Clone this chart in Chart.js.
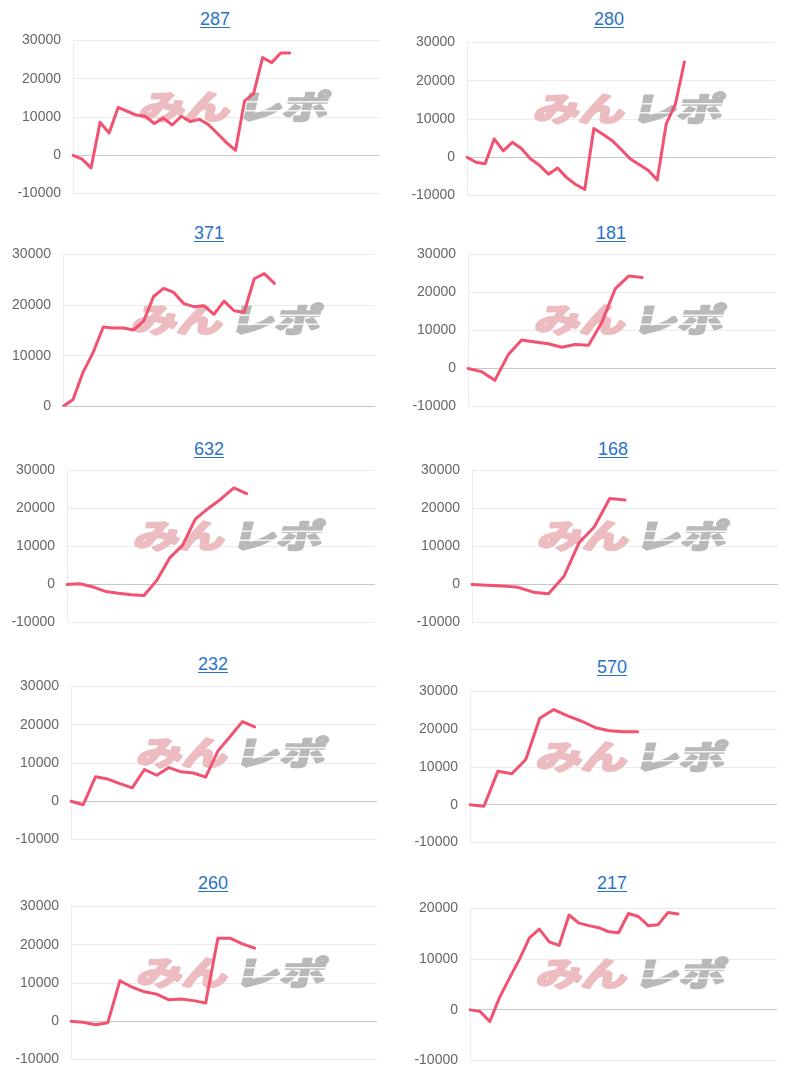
<!DOCTYPE html>
<html><head><meta charset="utf-8">
<script src="https://cdn.jsdelivr.net/npm/chart.js@4.4.0/dist/chart.umd.min.js"></script>
<style>
html,body{margin:0;padding:0;background:#fff;width:800px;height:1080px;overflow:hidden;position:relative;font-family:"Liberation Sans",Arial,sans-serif;}
.t{position:absolute;transform:translate(-50%,-50%);font-size:18px;color:#2a72c8;text-decoration:underline;text-underline-offset:2px;white-space:nowrap;line-height:1;}
canvas{position:absolute;}
</style></head><body>
<script>
// ---- data ----
const titles = ['287','280','371','181','632','168','232','570','260','217'];
const xLabelCounts = [35,35,32,24,25,21,26,23,26,32];
const yTicksFull = [-10000,0,10000,20000,30000];
const yTicksPos = [0,10000,20000,30000];
const yTicksLow = [-10000,0,10000,20000];

const s287 = [0,-1000,-3300,8600,5800,12500,11500,10500,10200,8300,9700,7900,10200,8800,9400,8000,5700,3300,1300,14200,16100,25500,24200,26700,26700];
const s280 = [0,-1300,-1700,4800,1700,3900,2300,-400,-2100,-4400,-2800,-5300,-7100,-8400,7500,6000,4400,2100,-400,-1900,-3400,-5900,8800,13800,24900];
const s371 = [0,1400,6800,10700,15700,15500,15500,15100,16800,21700,23300,22500,20300,19700,19900,18200,20800,18900,18600,25200,26200,24300];
const s181 = [0,-800,-3100,3600,7500,7000,6500,5600,6300,6100,12200,21000,24300,23900];
const s632 = [0,200,-600,-1800,-2300,-2700,-2900,1100,7000,10300,17200,20000,22500,25400,23900];
const s168 = [0,-200,-400,-700,-2000,-2400,2100,11000,15200,22600,22200];
const s232 = [0,-900,6400,5800,4600,3500,8300,6800,8800,7700,7400,6300,13100,16900,20800,19400];
const s570 = [0,-400,8900,8200,12000,22900,25200,23500,22100,20400,19600,19300,19300];
const s260 = [0,-250,-900,-400,10600,8900,7700,7100,5600,5800,5400,4800,21700,21700,20200,19100];
const s217 = [0,-300,-2300,2500,6300,10000,14200,15900,13400,12700,18700,17100,16600,16200,15400,15200,19000,18400,16600,16800,19200,18900];

const seriesList = [s287,s280,s371,s181,s632,s168,s232,s570,s260,s217];
const tickList = [yTicksFull,yTicksFull,yTicksPos,yTicksFull,yTicksFull,yTicksFull,yTicksFull,yTicksFull,yTicksFull,yTicksLow];

// ---- layout (positions only) ----
const panels = [
  {px:0,   l:73,  r:380, t:40,  b:200,  tx:215, ty:19},
  {px:400, l:467, r:775, t:42,  b:202,  tx:609, ty:19},
  {px:0,   l:63,  r:375, t:254, b:413,  tx:209, ty:233},
  {px:400, l:468, r:776, t:254, b:413,  tx:611, ty:233},
  {px:0,   l:67,  r:375, t:470, b:629,  tx:209, ty:449},
  {px:400, l:472, r:778, t:470, b:629,  tx:613, ty:449},
  {px:0,   l:71,  r:377, t:686, b:846,  tx:213, ty:664},
  {px:400, l:470, r:777, t:691, b:849,  tx:612, ty:667},
  {px:0,   l:71,  r:377, t:906, b:1066, tx:213, ty:883},
  {px:400, l:470, r:777, t:908, b:1067, tx:612, ty:883}
];

const watermark = {
  id:'watermark',
  beforeDatasetsDraw(chart){
    const a = chart.chartArea, ctx = chart.ctx;
    const cx = (a.left + a.right)/2 + 8, cy = (a.top + a.bottom)/2 - 11;
    ctx.save();
    ctx.translate(cx, cy);
    ctx.transform(1,0,-0.22,1,0,0);
    ctx.scale(1.38,1);
    ctx.font = 'bold 33px "Noto Sans CJK JP"';
    ctx.textBaseline = 'middle';
    ctx.lineJoin = 'round';
    ctx.lineWidth = 2.6;
    ctx.textAlign = 'right';
    ctx.fillStyle = ctx.strokeStyle = '#ecbcc1';
    ctx.strokeText('みん', -2, 0);
    ctx.fillText('みん', -2, 0);
    ctx.textAlign = 'left';
    ctx.fillStyle = ctx.strokeStyle = '#b9b9b9';
    ctx.strokeText('レポ', 3, 0);
    ctx.fillText('レポ', 3, 0);
    // speed-line cuts on the grey part
    ctx.fillStyle = 'rgba(255,255,255,0.85)';
    ctx.fillRect(0, -5, 75, 1.4);
    ctx.fillRect(0, 4, 75, 1.4);
    ctx.restore();
  }
};

panels.forEach((p, i) => {
  const title = document.createElement('span');
  title.className = 't';
  title.textContent = titles[i];
  title.style.left = p.tx + 'px';
  title.style.top = p.ty + 'px';
  document.body.appendChild(title);

  const padTop = 20, padBottom = 14;
  const cv = document.createElement('canvas');
  const w = 400, h = (p.b - p.t) + padTop + padBottom;
  cv.width = w; cv.height = h;
  cv.style.left = p.px + 'px';
  cv.style.top = (p.t - padTop) + 'px';
  cv.style.width = w + 'px'; cv.style.height = h + 'px';
  document.body.appendChild(cv);

  const labels = Array.from({length: xLabelCounts[i]}, (_, k) => String(k + 1));
  const ticks = tickList[i];
  const yw = p.l - p.px;

  new Chart(cv, {
    type: 'line',
    data: {
      labels,
      datasets: [{
        data: seriesList[i],
        borderColor: 'rgb(240,82,112)',
        borderWidth: 3,
        pointRadius: 0,
        pointHoverRadius: 0,
        tension: 0,
        fill: false,
        borderJoinStyle: 'round',
        borderCapStyle: 'round'
      }]
    },
    options: {
      responsive: false,
      animation: false,
      events: [],
      layout: { padding: { top: padTop, bottom: padBottom, left: 0, right: p.px + 400 - p.r } },
      plugins: { legend: { display: false }, tooltip: { enabled: false }, title: { display: false } },
      scales: {
        x: { type: 'category', display: false },
        y: {
          min: ticks[0], max: ticks[ticks.length - 1],
          afterFit: s => { s.width = yw; },
          afterBuildTicks: s => { s.ticks = ticks.map(v => ({ value: v })); },
          ticks: {
            color: '#666',
            font: { family: '"Liberation Sans", Arial, sans-serif', size: 14 },
            padding: 12,
            callback: v => String(v)
          },
          grid: {
            drawTicks: false,
            color: c => (c.tick && c.tick.value === 0) ? 'rgba(0,0,0,0.22)' : 'rgba(0,0,0,0.08)',
            lineWidth: 1
          },
          border: { display: true, color: 'rgba(0,0,0,0.08)', width: 1 }
        }
      }
    },
    plugins: [watermark]
  });
});
</script>
</body></html>
